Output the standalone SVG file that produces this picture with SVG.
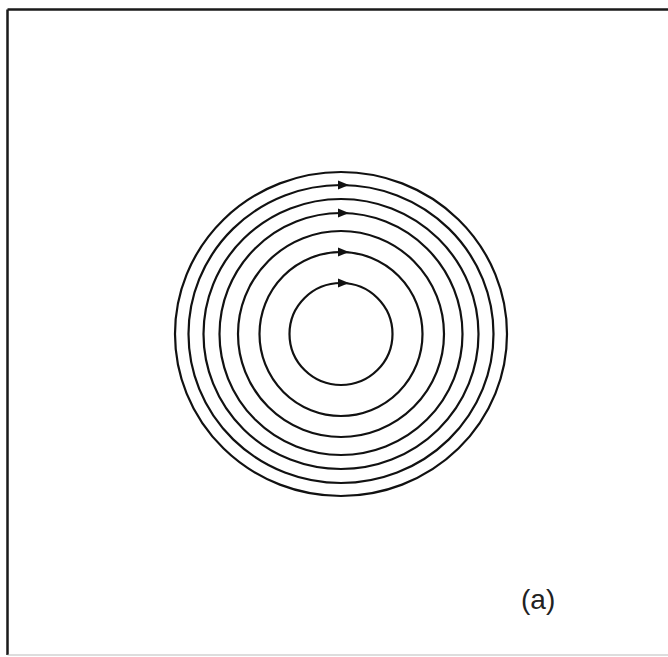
<svg xmlns="http://www.w3.org/2000/svg" width="668" height="657" viewBox="0 0 668 657">
<style>
.ring{fill:none;stroke:#111;stroke-width:2.2}
.arr{fill:#111}
.lbl{font-family:"Liberation Sans",Arial,sans-serif;font-size:28px;fill:#222}
</style>
<rect width="668" height="657" fill="#fff"/>
<path d="M7.5 9.5 H668 M7.5 9.5 V655" stroke="#1a1a1a" stroke-width="2.5" fill="none"/>
<path d="M7.5 655 H668" stroke="#bbb" stroke-width="1" fill="none"/>
<g id="rings">
<ellipse class="ring" cx="341" cy="334" rx="166" ry="162"/>
<ellipse class="ring" cx="341" cy="334" rx="152.5" ry="149"/>
<ellipse class="ring" cx="341" cy="334" rx="137.5" ry="135"/>
<ellipse class="ring" cx="341" cy="334" rx="121.5" ry="121"/>
<ellipse class="ring" cx="341" cy="334" rx="103" ry="103"/>
<ellipse class="ring" cx="341" cy="334" rx="81.5" ry="82"/>
<ellipse class="ring" cx="341" cy="334" rx="51.5" ry="51"/>
</g>
<g id="arrows">
<polygon class="arr" points="338,180.5 349,185 338,189.5"/>
<polygon class="arr" points="338,208.5 349,213 338,217.5"/>
<polygon class="arr" points="338,247.5 349,252 338,256.5"/>
<polygon class="arr" points="338,278.5 349,283 338,287.5"/>
</g>
<text class="lbl" x="521" y="609">(a)</text>
</svg>
